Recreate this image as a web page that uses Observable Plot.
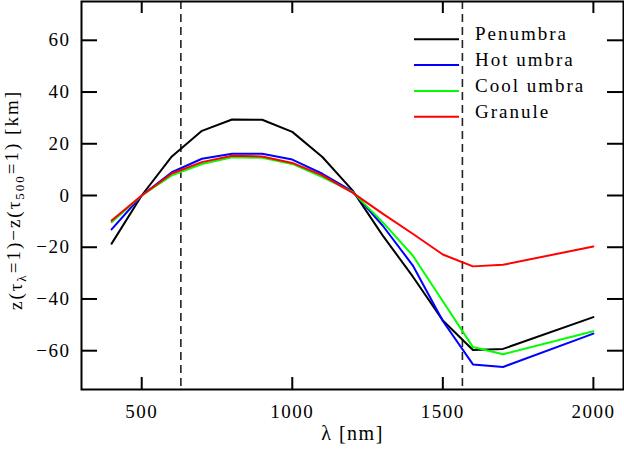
<!DOCTYPE html>
<html><head><meta charset="utf-8">
<script src="https://cdn.jsdelivr.net/npm/d3@7"></script>
<script src="https://cdn.jsdelivr.net/npm/@observablehq/plot@0.6"></script>
<style>
body{margin:0;background:#fff}
#chart svg{display:block}
#chart svg, #chart svg text, #chart svg tspan{font-family:"Liberation Serif", serif !important;}
</style>
</head><body><div id="chart"></div>
<script>
const wavelengths = [400, 500, 600, 700, 800, 900, 1000, 1100, 1200, 1300, 1400, 1500, 1600, 1700, 2000];
const penumbra = [-18.6, 0, 15.1, 25.0, 29.4, 29.3, 24.6, 14.9, 2.0, -15.4, -31.3, -48.3, -59.7, -59.3, -47.0];
const hotUmbra = [-13.1, 0, 9.0, 14.2, 16.1, 16.1, 13.9, 8.4, 1.6, -11.6, -27.0, -48.5, -65.3, -66.3, -53.4];
const coolUmbra = [-10.3, 0, 7.8, 12.2, 14.8, 14.6, 12.2, 7.1, 1.4, -10.3, -23.2, -40.9, -58.6, -61.4, -52.5];
const granule = [-9.7, 0, 8.5, 12.9, 15.4, 15.1, 12.6, 7.8, 1.1, -7.0, -14.8, -22.8, -27.4, -26.8, -19.7];
const seriesNames = ["Penumbra", "Hot umbra", "Cool umbra", "Granule"];
const seriesColors = ["#000000", "#0000ff", "#00ff00", "#ff0000"];
const xTicks = [500, 1000, 1500, 2000];
const yTicks = [-60, -40, -20, 0, 20, 40, 60];
const markerLines = [630, 1565];
const xLabel = "λ [nm]";

const seriesValues = [penumbra, hotUmbra, coolUmbra, granule];
const seriesData = seriesValues.map(vals => wavelengths.map((w, i) => ({wl: w, v: vals[i]})));

const chart = Plot.plot({
  width: 624, height: 450,
  marginLeft: 81, marginRight: 1, marginTop: 1, marginBottom: 61,
  style: {fontFamily: "'Liberation Serif', serif", fontSize: "19px", letterSpacing: "1.5px", background: "#fff", color: "#000"},
  x: {domain: [300, 2100]},
  y: {domain: [-75, 75]},
  marks: [
    Plot.ruleX(markerLines, {x: d => d, stroke: "#222", strokeWidth: 1.6, strokeDasharray: "8,5"}),
    ...seriesData.map((d, i) => Plot.line(d, {x: "wl", y: "v", stroke: seriesColors[i], strokeWidth: 2})),
    Plot.tickX(xTicks, {x: d => d, insetTop: 376, strokeWidth: 2}),
    Plot.tickX(xTicks, {x: d => d, insetBottom: 376, strokeWidth: 2}),
    Plot.tickY(yTicks, {y: d => d, insetRight: 526, strokeWidth: 2}),
    Plot.tickY(yTicks, {y: d => d, insetLeft: 526, strokeWidth: 2}),
    Plot.axisX({ticks: xTicks, tickSize: 0, tickPadding: 15, label: null, tickFormat: d => String(d)}),
    Plot.axisY({ticks: yTicks, tickSize: 0, tickPadding: 11, label: null}),
    Plot.frame({strokeWidth: 2}),
    Plot.text([xLabel], {text: d => d, frameAnchor: "bottom", dy: 50, fontSize: 20, letterSpacing: "2px"})
  ]
});
document.getElementById("chart").appendChild(chart);

const svg = d3.select(chart);
// legend
const lg = svg.append("g").attr("text-anchor", "start").attr("letter-spacing", "2px");
seriesNames.forEach((name, i) => {
  const y = 39.3 + i * 25.8;
  lg.append("line").attr("x1", 414).attr("x2", 459).attr("y1", y).attr("y2", y)
    .attr("stroke", seriesColors[i]).attr("stroke-width", 2);
  lg.append("text").attr("x", 475).attr("y", y + 1).attr("text-anchor", "start").text(name);
});
// y label with subscripts
const yl = svg.append("text").attr("transform", "translate(22,200) rotate(-90)")
  .attr("text-anchor", "middle").attr("letter-spacing", "2px");
yl.append("tspan").text("z(τ");
yl.append("tspan").attr("dy", "0.3em").attr("font-size", "13px").text("λ");
yl.append("tspan").attr("dy", "-0.3em").text("=1)−z(τ");
yl.append("tspan").attr("dy", "0.3em").attr("font-size", "13px").text("500");
yl.append("tspan").attr("dy", "-0.3em").text("=1) [km]");
</script>
</body></html>
